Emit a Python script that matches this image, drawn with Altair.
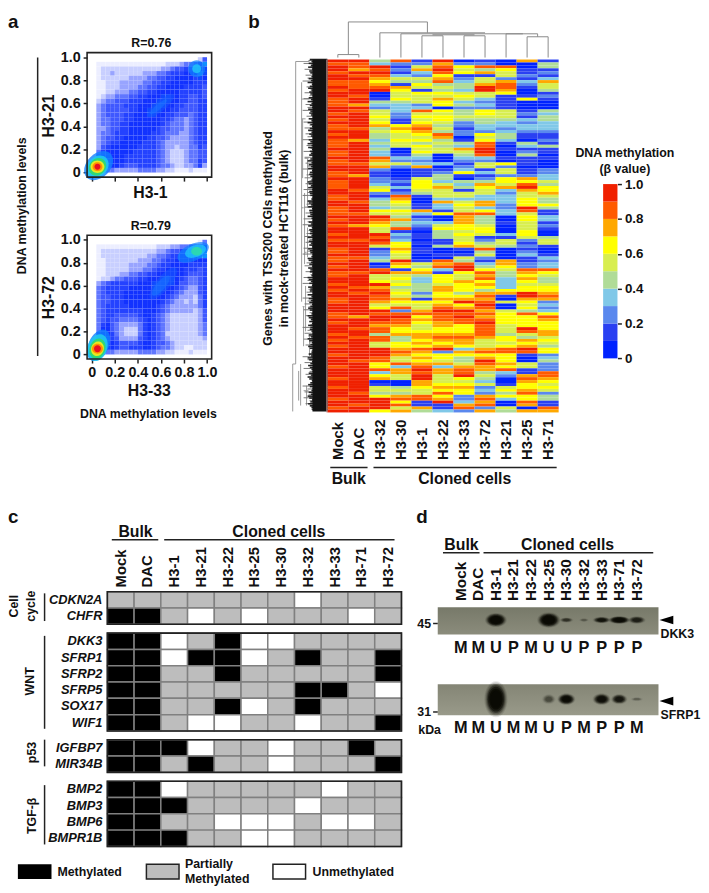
import altair as alt
import pandas as pd

W, H = 701, 885
FONT = "Liberation Sans"

# ---------- panel a: density grids (rows from beta 1.0 down to 0, columns 0 to 1) ----------
density_top = [
"0000000000000000000000025","0111111111111111222344569","0122222222222223345566688",
"0122322222233344566677798","0122222233334455667777687","0112223333344556677777666",
"0112223333445566777766665","0112233344556677777666665","0123344455667778877665565",
"0234455566677788877665566","0345555666777888776655566","0345555566778887766555566",
"0345555667778877665554566","0344555667777776654434566","0344556677777776544434566",
"0334556677777765544434566","0344566677777665444334566","0345566777776655433334566",
"0345667777766654333334566","0356777777666654332334465","0467777776666654322234455",
"0677777666666654322234455","0888777666666654322234465","0998776555666654432233463",
"0554433333444433221112111"]
density_bot = [
"0000000000000000000000014","0111111111111122233445678","0122222222222233455667899",
"0122222222223344566778899","0112222222333445667777777","0112222233334456677776666",
"0112222233344566777766656","0112223344556677777765556","0122344555667778887654456",
"0345666666777888887554456","0456666677777888776543356","0456666777777887765433356",
"0455666777777777654333246","0455666777777776543323246","0456666677777765433333346",
"0456666666677765433333235","0456655555677654322222235","0456554444567654322222235",
"0467543333467654322222234","0477543222467654322222234","0677643222467654222222234",
"0788653333567654322222223","0898765555677655432222222","0998765566677654432211222",
"0554433333444433221112111"]
density_colors = ["#ffffff","#eceeff","#c8cfff","#98a4ff","#6076ff","#3f58ff","#2442ff","#1232ff","#1048ff","#1090ff"]
# hot spots: x, y, width, height ratio, angle, colour, opacity
blobs_top = [(.06,.06,34,.7,-45,"#1080ff",.8),(.05,.05,25,.8,-45,"#20c8f0",.9),(.05,.05,19,.85,-45,"#30d870",.95),
             (.05,.05,14,.9,0,"#e8e820",1),(.05,.05,10,.9,0,"#ff9000",1),(.05,.05,6,1,0,"#e81020",1),
             (.6,.58,34,.3,-40,"#1458ff",.55),(.58,.57,22,.25,-40,"#1878ff",.5),(.91,.9,17,1,0,"#1080ff",.7),(.91,.9,9,1,0,"#20c8f8",.8)]
blobs_bot = [(.06,.08,34,.6,-65,"#1080ff",.8),(.05,.06,28,.7,-70,"#20c8f0",.9),(.05,.05,21,.75,-70,"#30d870",.95),
             (.05,.05,15,.85,-70,"#e8e820",1),(.05,.05,11,.9,0,"#ff9000",1),(.05,.05,7,1,0,"#e81020",1),
             (.62,.62,40,.35,-50,"#1458ff",.55),(.6,.6,26,.35,-50,"#1878ff",.5),(.88,.89,34,.5,-25,"#1080ff",.7),(.9,.9,22,.55,-20,"#20c8f8",.75),(.91,.9,11,.8,0,"#30e0a0",.8)]
ticks_a = [0, .2, .4, .6, .8, 1.0]

# ---------- panel b ----------
samples_b = ["Mock","DAC","H3-32","H3-30","H3-1","H3-22","H3-33","H3-72","H3-21","H3-25","H3-71"]
levels_b = {
"Mock":  "9899899889"+"8998889989"+"8988989888"+"9889889988"+"9888998899"+"8889898998"+"9899889889"+"8988998989"+"9889998898"+"9998989899"+"8999899989"+"9899989989",
"DAC":   "9887989888"+"9989979899"+"9998999799"+"9999989997"+"9999899989"+"9989997999"+"9899999899"+"9989999898"+"9999999799"+"9899899999"+"9989999999"+"9998999899",
"H3-32": "439898767890014325565674544343"+"433875721122356213443659876559"+"898512234018955697898875698998"+"788488559998866836701554699996",
"H3-30": "821213541765564333221167655655"+"001325200012131287654654744813"+"236676559761756564565765828988"+"766744667875583775500454786857",
"H3-1":  "125732546516555238565678765646"+"564323711156665410011731232101"+"101011001546743344424165578676"+"556776768767678989977655881174",
"H3-22": "978986784546576606566545487454"+"550003012443575553733160035644"+"411400108783166657766767898887"+"766787679266573775556768679113",
"H3-33": "026561234435653424454221220143"+"754321236104341553565587776656"+"556710154899655766646796798988"+"666787763764457889656766223782",
"H3-72": "128471557995532326654433265688"+"998325513124765533773684445665"+"124584521346878676478789878789"+"888875557867987745435232787827",
"H3-21": "008655278876111115554332344310"+"100106255266573233322330010003"+"155400007765443333671050056666"+"555466568866676832001564630054",
"H3-25": "700112132100160001213233211043"+"124111011276897556669856655566"+"521212311228767656699765648666"+"698547679810055117876678668707",
"H3-71": "144121375541210004344333211214"+"110100022335466754464113312100"+"455100132338654456678723236876"+"667756546623422288765652441187",
}
heat_colors = ["#0022ff","#2a40f2","#5a88ee","#80c8e8","#b0dc98","#d8ee50","#ffff00","#ffa800","#ff5a00","#f02000"]
legend_levels = list(range(10))
ticks_b = [0, .2, .4, .6, .8, 1.0]
# top dendrogram: column position and merge height
top_x  = [.5,1.5,.5,1.0,1.0,4.76,2.5,2.5,3.5,3.5,4.5,5.5,4.5,6.5,7.5,6.5,5.0,8.5,9.5,10.5,9.5,8.5,10.0]
top_x2 = [.5,1.5,1.5,1.0,4.76,4.76,7.5,2.5,9.3,3.5,4.5,5.5,5.5,6.5,7.5,7.5,7.0,8.5,9.5,10.5,10.5,10.0,10.0]
top_h  = [0,0,3,3,36,25,25,0,24,0,0,0,22,0,0,22,23,0,0,0,21,24,21]
top_h2 = [3,3,3,36,36,36,25,25,24,24,22,22,22,22,22,22,23,24,21,21,21,24,24]
# left dendrogram: long-branch skeleton (height, height2, gene position, position2)
left_h  = [32,18,35,32,26,18,23,22,27,29,25,20,20,24,21,18,22,24,19,21,23,19]
left_h2 = [32,32,35,35,26,26,23,22,27,29,25,20,20,24,21,18,26,26,23,23,25,24]
left_p  = [2,2,308,308,23,40,135,229,308,315,60,100,170,250,330,280,60,150,100,195,250,335]
left_p2 = [308,2,356,308,245,40,207,275,350,345,120,150,200,290,350,300,60,150,100,195,250,335]
# leaf fringe of the left dendrogram: branch length per gene group
fringe = ("5273816402739158264073925184630729415826307492"
          "8153604927381564029738165402973816549207381645"
          "2907361854029736184502973618450927361485029736"
          "1845207396148502739614852073961485027396148520")
fringe2 = ("3817264905172836490518273649051827364905"
           "7261849035726184903572618490357261849035"
           "1947382610194738261019473826101947382610")

# ---------- panel c ----------
samples_c = ["Mock","DAC","H3-1","H3-21","H3-22","H3-25","H3-30","H3-32","H3-33","H3-71","H3-72"]
groups_c = [
 ("cell", ["CDKN2A","CHFR"]),
 ("wnt",  ["DKK3","SFRP1","SFRP2","SFRP5","SOX17","WIF1"]),
 ("p53",  ["IGFBP7","MIR34B"]),
 ("tgf",  ["BMP2","BMP3","BMP6","BMPR1B"]),
]
status_c = {
"CDKN2A":"PPPPPPPUPPP",
"CHFR":"MMPUPUPPPUP","DKK3":"MMUPMUUPPPP","SFRP1":"MMUMMUPMPPM","SFRP2":"MMPPMPPPPPM",
"SFRP5":"MMPPPPPMMPU","SOX17":"MMPPMUPMPPP","WIF1":"MMPUUPPUPPM","IGFBP7":"MMMUPPUPPMP",
"MIR34B":"MMPMPPUPPPM","BMP2":"MMUPPPPPUPP","BMP3":"MMMPPPPUPPP","BMP6":"MMPPUUUPUUP","BMPR1B":"MMMPPUUPPPP",
}
status_names = ["M","P","U"]
status_colors = ["#000000","#bdbdbd","#ffffff"]

# ---------- panel d ----------
samples_d = samples_c
calls_dkk3  = list("MMUPMUUPPPP")
calls_sfrp1 = list("MMUMMUPMPPM")
# lane, band width, band height, darkness
bands_dkk3  = [("H3-1",17,11,1.0),("H3-25",18,12,1.0),("H3-30",11,4,.3),("H3-32",8,3,.12),("H3-33",14,5,.6),("H3-71",17,6,.9),("H3-72",14,6,.45)]
bands_sfrp1 = [("H3-1",18,28,1.0),("H3-25",11,8,.2),("H3-30",14,9,.8),("H3-33",14,9,.7),("H3-71",13,8,.55),("H3-72",10,3,.12)]
band_halo = [(1.3,.1),(1.2,.16),(1.1,.25),(1.0,.4),(.9,.6),(.75,.85),(.6,1)]

# ---------- helpers ----------
def px(v): return v - 8
def py(v): return v - 8
one = pd.DataFrame({"a": [0]})
layers = []

def txt(label, x, y, size=12.5, angle=0, align="center", weight="bold", style="normal", baseline="middle"):
    layers.append(alt.Chart(pd.DataFrame({"t": [label]})).mark_text(
        font=FONT, fontSize=size, fontWeight=weight, fontStyle=style, angle=angle, align=align,
        baseline=baseline, color="#111111").encode(text="t:N", x=alt.value(px(x)), y=alt.value(py(y))))

def line(x0, y0, x1, y1, color="#222222", w=1.5):
    layers.append(alt.Chart(one).mark_rule(color=color, strokeWidth=w).encode(
        x=alt.value(px(x0)), x2=alt.value(px(x1)), y=alt.value(py(y0)), y2=alt.value(py(y1))))

def box(x0, y0, x1, y1, fill, stroke=None, w=1.5):
    kw = {"fill": fill}
    if stroke:
        kw.update(stroke=stroke, strokeWidth=w)
    layers.append(alt.Chart(one).mark_rect(**kw).encode(
        x=alt.value(px(x0)), x2=alt.value(px(x1)), y=alt.value(py(y0)), y2=alt.value(py(y1))))

def ellipse(ratio):
    r = round(ratio, 3)
    return f"M-1,0A1,{r} 0 1 1 1,0A1,{r} 0 1 1 -1,0Z"

# ---------- panel a ----------
def density_panel(grid, blobs, top, bot, labels):
    sx = alt.Scale(domain=[-.04, 1.04], range=[px(88), px(214)])
    sy = alt.Scale(domain=[-.04, 1.04], range=[py(bot), py(top)])
    rows = []
    for i, row in enumerate(grid):
        for j, ch in enumerate(row):
            if ch != "0":
                rows.append({"x": j*.04, "x2": (j+1)*.04, "y": 1-i*.04, "y2": 1-(i+1)*.04, "lev": ch})
    expr = "datum.value == 0 ? '0' : format(datum.value, '.1f')"
    layers.append(alt.Chart(pd.DataFrame(rows)).mark_rect().encode(
        x=alt.X("x:Q", scale=sx, axis=alt.Axis(values=ticks_a, orient="bottom", offset=-(H-py(bot)), domain=False, grid=False,
                title=None, labels=labels, labelExpr=expr, labelFont=FONT, labelFontSize=14.5, labelFontWeight="bold", labelColor="#111",
                tickSize=4, tickWidth=1.5, tickColor="#222", labelFlush=False, labelOverlap=False, labelPadding=3)),
        x2="x2:Q",
        y=alt.Y("y:Q", scale=sy, axis=alt.Axis(values=ticks_a, orient="left", offset=-px(88), domain=False, grid=False,
                title=None, labelExpr=expr, labelFont=FONT, labelFontSize=14.5, labelFontWeight="bold", labelColor="#111",
                tickSize=4, tickWidth=1.5, tickColor="#222", labelOverlap=False, labelPadding=3)),
        y2="y2:Q",
        color=alt.Color("lev:O", scale=alt.Scale(domain=list("0123456789"), range=density_colors), legend=None)))
    for b in blobs:
        layers.append(alt.Chart(pd.DataFrame({"x": [b[0]], "y": [b[1]]})).mark_point(
            filled=True, opacity=b[6], shape=ellipse(b[3]), size=b[2]**2, angle=b[4] % 360, color=b[5]).encode(
            x=alt.X("x:Q", scale=sx, axis=None), y=alt.Y("y:Q", scale=sy, axis=None)))
    layers.append(alt.Chart(pd.DataFrame({"x": [-.04], "x2": [1.04], "y": [-.04], "y2": [1.04]})).mark_rect(
        filled=False, stroke="#222222", strokeWidth=1.6).encode(
        x=alt.X("x:Q", scale=sx, axis=None), x2="x2:Q", y=alt.Y("y:Q", scale=sy, axis=None), y2="y2:Q"))

density_panel(density_top, blobs_top, 48, 174, False)
density_panel(density_bot, blobs_bot, 232.7, 358, True)
txt("a", 8, 17, 19, align="left")
txt("R=0.76", 153, 38.5)
txt("R=0.79", 152.5, 223)
txt("H3-21", 50, 112, 16, angle=270)
txt("H3-72", 50, 296, 16, angle=270)
txt("H3-1", 152, 190, 16)
txt("H3-33", 151, 390.5, 16)
txt("DNA methylation levels", 22, 203, 12.5, angle=270)
txt("DNA methylation levels", 150, 414, 12.5)
line(38, 53, 38, 355, w=1.5)

# ---------- panel b ----------
x_b = alt.Scale(domain=samples_b, range=[px(331), px(565)], paddingInner=0, paddingOuter=0)
y_b = alt.Scale(domain=[0, 120], range=[py(55), py(412)])
rows_b = []
for s in samples_b:
    for i, ch in enumerate(levels_b[s][:120]):
        rows_b.append({"sample": s, "row": i, "row2": i+1, "beta": (int(ch)+.5)/10})
thr = [.1,.2,.3,.4,.5,.6,.7,.8,.9]
layers.append(alt.Chart(pd.DataFrame(rows_b)).mark_rect().encode(
    x=alt.X("sample:N", scale=x_b, axis=None), y=alt.Y("row:Q", scale=y_b, axis=None), y2="row2:Q",
    color=alt.Color("beta:Q", scale=alt.Scale(type="threshold", domain=thr, range=heat_colors), legend=None)))
layers.append(alt.Chart(pd.DataFrame({"sample": samples_b})).mark_text(
    font=FONT, fontSize=15, fontWeight="bold", angle=270, align="left", baseline="middle", color="#111").encode(
    text="sample:N", x=alt.X("sample:N", scale=x_b, axis=None), y=alt.value(py(460))))
txt("b", 251, 17, 19, align="left")
line(334, 467.7, 371.7, 467.7, w=1.5)
line(377.7, 467.7, 563, 467.7, w=1.5)
txt("Bulk", 352.7, 479.5, 16)
txt("Cloned cells", 470, 479.5, 16)
txt("Genes with TSS200 CGIs methylated", 271, 236, 12.5, angle=270)
txt("in mock-treated HCT116 (bulk)", 287, 236, 12.5, angle=270)

# top dendrogram
x_dt = alt.Scale(domain=[0, 11], range=[px(331), px(565)])
y_dt = alt.Scale(domain=[0, 36], range=[py(53), py(17)])
layers.append(alt.Chart(pd.DataFrame({"x": top_x, "x2": top_x2, "y": top_h, "y2": top_h2})).mark_rule(color="#8a8a8a", strokeWidth=1).encode(
    x=alt.X("x:Q", scale=x_dt, axis=None), x2="x2:Q", y=alt.Y("y:Q", scale=y_dt, axis=None), y2="y2:Q"))
# left dendrogram
x_dl = alt.Scale(domain=[0, 36], range=[px(331), px(295)])
y_dl = alt.Scale(domain=[0, 356], range=[py(55), py(411)])
layers.append(alt.Chart(pd.DataFrame({"x": left_h, "x2": left_h2, "y": left_p, "y2": left_p2})).mark_rule(color="#9a9a9a", strokeWidth=1).encode(
    x=alt.X("x:Q", scale=x_dl, axis=None), x2="x2:Q", y=alt.Y("y:Q", scale=y_dl, axis=None), y2="y2:Q"))
fr2 = pd.DataFrame({"g": [i*356/len(fringe2)+1 for i in range(len(fringe2))], "x": [0]*len(fringe2),
                    "x2": [int(c)*1.0+16 for c in fringe2]})
layers.append(alt.Chart(fr2).mark_rule(color="#777777", strokeWidth=1).encode(
    x=alt.X("x:Q", scale=x_dl, axis=None), x2="x2:Q", y=alt.Y("g:Q", scale=y_dl, axis=None)))
fr = pd.DataFrame({"g": [i*356/len(fringe) for i in range(len(fringe))], "x": [0]*len(fringe),
                   "x2": [int(c)*.55+15 for c in fringe]})
layers.append(alt.Chart(fr).mark_rule(color="#222222", strokeWidth=1.6).encode(
    x=alt.X("x:Q", scale=x_dl, axis=None), x2="x2:Q", y=alt.Y("g:Q", scale=y_dl, axis=None)))
layers.append(alt.Chart(pd.DataFrame({"x": [0], "x2": [15], "y": [0], "y2": [356]})).mark_rect(color="#111111").encode(
    x=alt.X("x:Q", scale=x_dl, axis=None), x2="x2:Q", y=alt.Y("y:Q", scale=y_dl, axis=None), y2="y2:Q"))
line(330.5, 55, 330.5, 412, color="#c09090", w=1)

# colour bar
y_cb = alt.Scale(domain=[0, 1], range=[py(357.3), py(181)])
cb = pd.DataFrame({"lo": [l/10 for l in legend_levels], "hi": [(l+1)/10 for l in legend_levels], "mid": [(l+.5)/10 for l in legend_levels]})
layers.append(alt.Chart(cb).mark_rect().encode(
    x=alt.value(px(610)), x2=alt.value(px(624.5)),
    y=alt.Y("lo:Q", scale=y_cb, axis=alt.Axis(values=ticks_b, orient="right", offset=-(W-px(624.5)), domain=False, grid=False, title=None,
            labelExpr="datum.value == 0 ? '0' : format(datum.value, '.1f')", labelFont=FONT, labelFontSize=13.5, labelFontWeight="bold",
            labelColor="#111", tickSize=4, tickWidth=1.5, tickColor="#222", labelOverlap=False, labelPadding=3, labelFlush=False)),
    y2="hi:Q",
    color=alt.Color("mid:Q", scale=alt.Scale(type="threshold", domain=thr, range=heat_colors), legend=None)))
txt("DNA methylation", 632, 149.5)
txt("(\u03b2 value)", 632, 166)

# ---------- panel c ----------
x_c = alt.Scale(domain=samples_c, range=[px(108.5), px(406)], paddingInner=0, paddingOuter=0)
gap = .54
tot = 14 + 3*gap
y_c = alt.Scale(domain=[0, tot], range=[py(593.3), py(851)])
rows_c, rows_g, frames = [], [], []
pos = 0
for name, genes in groups_c:
    start = pos
    for g in genes:
        rows_g.append({"gene": g, "mid": pos+.5})
        for s, st in zip(samples_c, status_c[g]):
            rows_c.append({"sample": s, "top": pos, "bot": pos+1, "status": st})
        pos += 1
    frames.append({"top": start, "bot": pos})
    pos += gap
layers.append(alt.Chart(pd.DataFrame(rows_c)).mark_rect(stroke="#808080", strokeWidth=1.5).encode(
    x=alt.X("sample:N", scale=x_c, axis=None), y=alt.Y("top:Q", scale=y_c, axis=None), y2="bot:Q",
    color=alt.Color("status:N", scale=alt.Scale(domain=status_names, range=status_colors), legend=None)))
layers.append(alt.Chart(pd.DataFrame(frames)).mark_rect(filled=False, stroke="#222222", strokeWidth=1.6).encode(
    x=alt.value(px(108.5)), x2=alt.value(px(406)), y=alt.Y("top:Q", scale=y_c, axis=None), y2="bot:Q"))
layers.append(alt.Chart(pd.DataFrame(rows_g)).mark_text(
    font=FONT, fontSize=13, fontWeight="bold", fontStyle="italic", align="right", baseline="middle", color="#111").encode(
    text="gene:N", x=alt.value(px(103.5)), y=alt.Y("mid:Q", scale=y_c, axis=None)))
layers.append(alt.Chart(pd.DataFrame({"sample": samples_c})).mark_text(
    font=FONT, fontSize=15, fontWeight="bold", angle=270, align="left", baseline="middle", color="#111").encode(
    text="sample:N", x=alt.X("sample:N", scale=x_c, axis=None), y=alt.value(py(589))))
txt("c", 8, 518, 19, align="left")
txt("Bulk", 137, 532.5, 16)
txt("Cloned cells", 282, 532.5, 16)
line(113, 540.7, 160, 540.7)
line(166, 540.7, 399, 540.7)
txt("Cell", 14, 608, 12.5, angle=270)
txt("cycle", 31, 608, 12.5, angle=270)
txt("WNT", 30, 684, 12.5, angle=270)
txt("p53", 32, 756, 12.5, angle=270)
txt("TGF-\u03b2", 32, 820, 12.5, angle=270)
line(45, 595, 45, 623)
line(45, 638, 45, 732)
line(45, 743, 45, 770)
line(45, 789, 45, 849)
box(18, 869, 52, 884, "#000000")
txt("Methylated", 58, 877, 12.5, align="left")
box(148, 869, 181, 884, "#bdbdbd", "#222222")
txt("Partially", 187, 869, 12.5, align="left")
txt("Methylated", 187, 884, 12.5, align="left")
box(276, 869, 309, 884, "#ffffff", "#222222")
txt("Unmethylated", 316, 877, 12.5, align="left")

# ---------- panel d ----------
x_d = alt.Scale(type="point", domain=samples_d, range=[px(457), px(653)])
grad1 = alt.Gradient(gradient="linear", x1=0, x2=0, y1=0, y2=1, stops=[alt.GradientStop(color="#777969", offset=0), alt.GradientStop(color="#8b8c7c", offset=1)])
grad2 = alt.Gradient(gradient="linear", x1=0, x2=0, y1=0, y2=1, stops=[alt.GradientStop(color="#848575", offset=0), alt.GradientStop(color="#999a8a", offset=1)])
for y0, y1, g in [(609, 636.7, grad1), (687, 718.3, grad2)]:
    layers.append(alt.Chart(one).mark_rect(color=g).encode(
        x=alt.value(px(442.7)), x2=alt.value(px(666)), y=alt.value(py(y0)), y2=alt.value(py(y1))))

def blot(bands, yc):
    rows = []
    for lane, w, h, d in bands:
        for k, op in band_halo:
            rows.append({"lane": lane, "s": (w*k)**2, "p": ellipse(h/w), "o": op*d})
    layers.append(alt.Chart(pd.DataFrame(rows)).mark_point(filled=True, color="#0a0a04").encode(
        x=alt.X("lane:N", scale=x_d, axis=None), y=alt.value(py(yc)),
        size=alt.Size("s:Q", scale=None, legend=None), shape=alt.Shape("p:N", scale=None, legend=None),
        opacity=alt.Opacity("o:Q", scale=None, legend=None)))
blot(bands_dkk3, 622)
blot(bands_sfrp1, 702)
layers.append(alt.Chart(pd.DataFrame({"sample": samples_d})).mark_text(
    font=FONT, fontSize=15.5, fontWeight="bold", angle=270, align="left", baseline="middle", color="#111").encode(
    text="sample:N", x=alt.X("sample:N", scale=x_d, axis=None), y=alt.value(py(602.7))))
for calls, yc in [(calls_dkk3, 650), (calls_sfrp1, 731)]:
    layers.append(alt.Chart(pd.DataFrame({"sample": samples_d, "call": calls})).mark_text(
        font=FONT, fontSize=16.5, fontWeight="bold", baseline="middle", color="#111").encode(
        text="call:N", x=alt.X("sample:N", scale=x_d, axis=None), y=alt.value(py(yc))))
txt("d", 421, 518, 19, align="left")
txt("Bulk", 466.7, 546, 16)
txt("Cloned cells", 574, 546, 16)
line(448, 554, 485, 554)
line(489, 554, 660.7, 554)
txt("DKK3", 668, 636, 12.5, align="left")
txt("SFRP1", 668, 718.5, 12.5, align="left")
txt("45", 422, 626, 12.5, align="left")
txt("31", 422, 715, 12.5, align="left")
txt("kDa", 423, 733, 12.5, align="left")
line(438, 625.5, 442.7, 625.5)
line(438, 715, 442.7, 715)
for yc in [622, 704]:
    layers.append(alt.Chart(one).mark_point(filled=True, color="#000000", opacity=1, size=196, shape="M-1,0L1,-.62L1,.62Z").encode(
        x=alt.value(px(674)), y=alt.value(py(yc))))

chart = alt.layer(*layers).resolve_scale(
    x="independent", y="independent", color="independent", size="independent", shape="independent", opacity="independent"
).resolve_axis(x="independent", y="independent").properties(
    width=W, height=H, padding=0, autosize=alt.AutoSizeParams(type="none"), background="white"
).configure_view(stroke=None)

chart.save("out.html", embed_options={"renderer": "svg", "actions": False})
